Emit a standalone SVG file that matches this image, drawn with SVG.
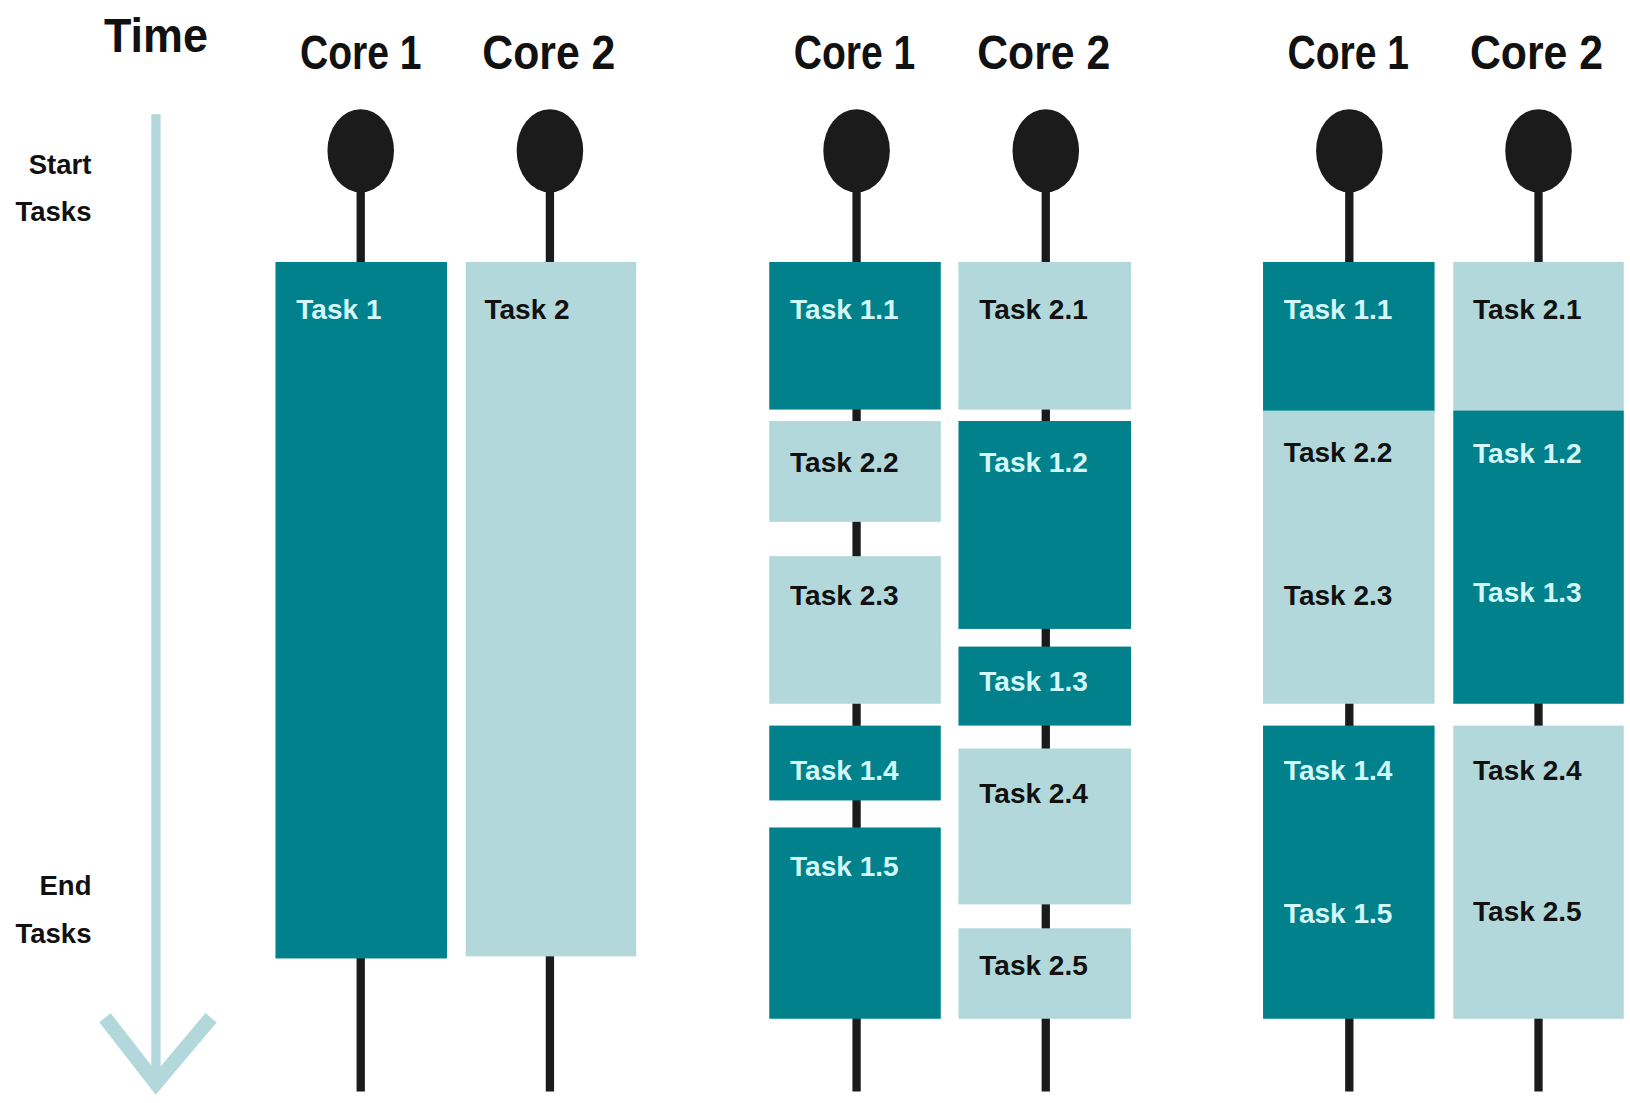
<svg xmlns="http://www.w3.org/2000/svg" width="1630" height="1103" viewBox="0 0 1630 1103">
<style>
.bg{fill:#ffffff}
.dark{fill:#00818B}
.light{fill:#B2D8DB}
.stem{stroke:#1b1b1b;stroke-width:8;fill:none}
.pin{fill:#1b1b1b}
.axis{stroke:#B2D8DB;fill:none;stroke-linecap:butt}
.hdr{font-family:"Liberation Sans",Arial,sans-serif;font-weight:700;font-size:46px;fill:#111;text-anchor:middle}
.side{font-family:"Liberation Sans",Arial,sans-serif;font-weight:700;font-size:26.5px;fill:#111;text-anchor:end}
.tl{font-family:"Liberation Sans",Arial,sans-serif;font-weight:700;font-size:27px}
.onDark{fill:#D4F7FA}
.onLight{fill:#111}
</style>
<rect class="bg" x="0" y="0" width="1630" height="1103"/>
<g transform="scale(1.03954)">
<g id="connectors">
  <line class="axis" x1="150" y1="110" x2="150" y2="1045" stroke-width="9"/>
  <polyline class="axis" points="101,979 150,1042 203,979" stroke-width="14"/>
  <line class="stem" x1="347" y1="150" x2="347" y2="1050"/>
  <line class="stem" x1="529" y1="150" x2="529" y2="1050"/>
  <line class="stem" x1="824" y1="150" x2="824" y2="1050"/>
  <line class="stem" x1="1006" y1="150" x2="1006" y2="1050"/>
  <line class="stem" x1="1298" y1="150" x2="1298" y2="1050"/>
  <line class="stem" x1="1480" y1="150" x2="1480" y2="1050"/>
</g>
<g id="labels">
  <text class="hdr" x="150" y="50" font-size="42" textLength="100" lengthAdjust="spacingAndGlyphs">Time</text>
  <text class="side" x="88" y="167">Start</text>
  <text class="side" x="88" y="213">Tasks</text>
  <text class="side" x="88" y="861">End</text>
  <text class="side" x="88" y="907">Tasks</text>
</g>
<g id="pins">
  <ellipse class="pin" cx="347" cy="145" rx="32" ry="40"/>
  <ellipse class="pin" cx="529" cy="145" rx="32" ry="40"/>
  <ellipse class="pin" cx="824" cy="145" rx="32" ry="40"/>
  <ellipse class="pin" cx="1006" cy="145" rx="32" ry="40"/>
  <ellipse class="pin" cx="1298" cy="145" rx="32" ry="40"/>
  <ellipse class="pin" cx="1480" cy="145" rx="32" ry="40"/>
</g>
<g id="headers">
  <text class="hdr" x="347" y="66" textLength="117" lengthAdjust="spacingAndGlyphs">Core 1</text>
  <text class="hdr" x="528" y="66" textLength="128" lengthAdjust="spacingAndGlyphs">Core 2</text>
  <text class="hdr" x="822" y="66" textLength="117" lengthAdjust="spacingAndGlyphs">Core 1</text>
  <text class="hdr" x="1004" y="66" textLength="128" lengthAdjust="spacingAndGlyphs">Core 2</text>
  <text class="hdr" x="1297" y="66" textLength="117" lengthAdjust="spacingAndGlyphs">Core 1</text>
  <text class="hdr" x="1478" y="66" textLength="128" lengthAdjust="spacingAndGlyphs">Core 2</text>
</g>
<!-- Section 1 -->
<g id="s1-task1"><rect class="dark" x="265" y="252" width="165" height="670"/><text class="tl onDark" x="285" y="307">Task 1</text></g>
<g id="s1-task2"><rect class="light" x="448" y="252" width="164" height="668"/><text class="tl onLight" x="466" y="307">Task 2</text></g>
<!-- Section 2 core 1 -->
<g id="s2-task1-1"><rect class="dark" x="740" y="252" width="165" height="142"/><text class="tl onDark" x="760" y="307">Task 1.1</text></g>
<g id="s2-task2-2"><rect class="light" x="740" y="405" width="165" height="97"/><text class="tl onLight" x="760" y="454">Task 2.2</text></g>
<g id="s2-task2-3"><rect class="light" x="740" y="535" width="165" height="142"/><text class="tl onLight" x="760" y="582">Task 2.3</text></g>
<g id="s2-task1-4"><rect class="dark" x="740" y="698" width="165" height="72"/><text class="tl onDark" x="760" y="750">Task 1.4</text></g>
<g id="s2-task1-5"><rect class="dark" x="740" y="796" width="165" height="184"/><text class="tl onDark" x="760" y="843">Task 1.5</text></g>
<!-- Section 2 core 2 -->
<g id="s2-task2-1"><rect class="light" x="922" y="252" width="166" height="142"/><text class="tl onLight" x="942" y="307">Task 2.1</text></g>
<g id="s2-task1-2"><rect class="dark" x="922" y="405" width="166" height="200"/><text class="tl onDark" x="942" y="454">Task 1.2</text></g>
<g id="s2-task1-3"><rect class="dark" x="922" y="622" width="166" height="76"/><text class="tl onDark" x="942" y="665">Task 1.3</text></g>
<g id="s2-task2-4"><rect class="light" x="922" y="720" width="166" height="150"/><text class="tl onLight" x="942" y="772">Task 2.4</text></g>
<g id="s2-task2-5"><rect class="light" x="922" y="893" width="166" height="87"/><text class="tl onLight" x="942" y="938">Task 2.5</text></g>
<!-- Section 3 core 1 -->
<g id="s3-task1-1"><rect class="dark" x="1215" y="252" width="165" height="144"/><text class="tl onDark" x="1235" y="307">Task 1.1</text></g>
<g id="s3-task2-2-3"><rect class="light" x="1215" y="395" width="165" height="282"/><text class="tl onLight" x="1235" y="444">Task 2.2</text><text class="tl onLight" x="1235" y="582">Task 2.3</text></g>
<g id="s3-task1-4-5"><rect class="dark" x="1215" y="698" width="165" height="282"/><text class="tl onDark" x="1235" y="750">Task 1.4</text><text class="tl onDark" x="1235" y="888">Task 1.5</text></g>
<!-- Section 3 core 2 -->
<g id="s3-task2-1"><rect class="light" x="1398" y="252" width="164" height="144"/><text class="tl onLight" x="1417" y="307">Task 2.1</text></g>
<g id="s3-task1-2-3"><rect class="dark" x="1398" y="395" width="164" height="282"/><text class="tl onDark" x="1417" y="445">Task 1.2</text><text class="tl onDark" x="1417" y="579">Task 1.3</text></g>
<g id="s3-task2-4-5"><rect class="light" x="1398" y="698" width="164" height="282"/><text class="tl onLight" x="1417" y="750">Task 2.4</text><text class="tl onLight" x="1417" y="886">Task 2.5</text></g>
</g>
</svg>
